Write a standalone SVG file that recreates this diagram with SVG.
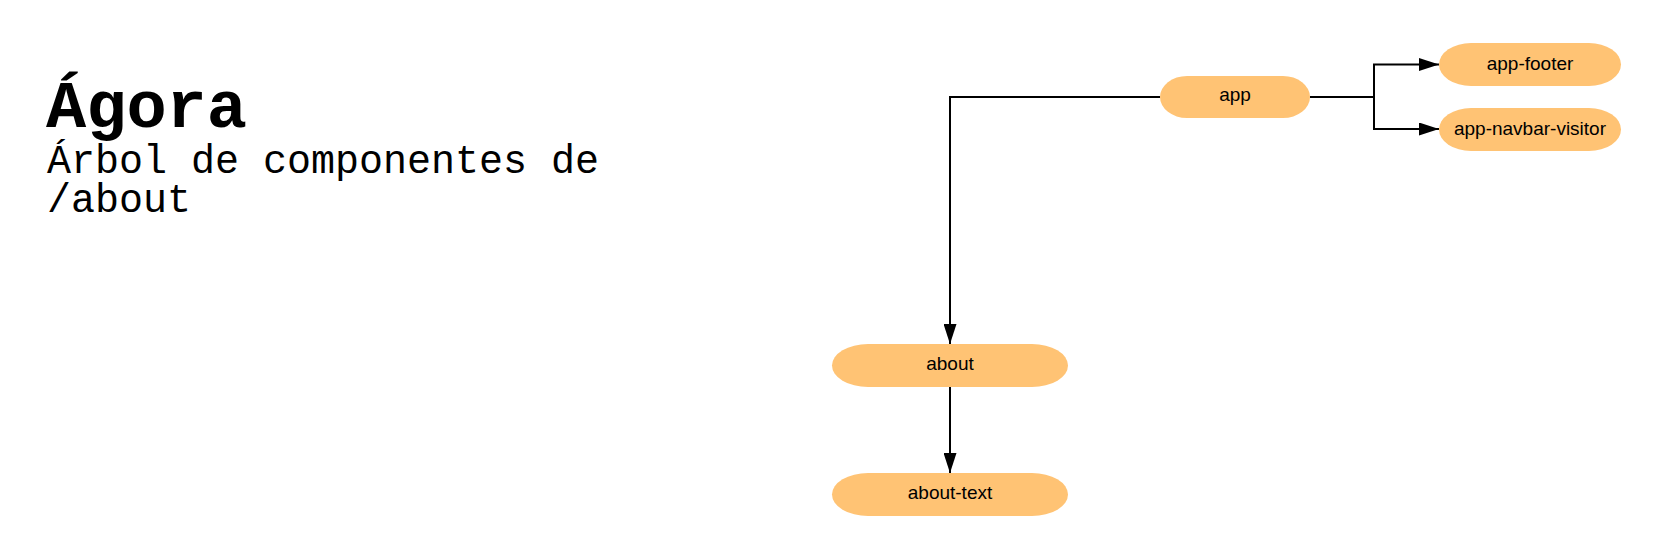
<svg xmlns="http://www.w3.org/2000/svg" width="1664" height="558" viewBox="0 0 1664 558">
<style>
.node rect{fill:#ffc374;stroke:none}
.node text{font-family:"Liberation Sans",Arial,sans-serif;font-size:19px;fill:#000;text-anchor:middle}
.edge{fill:none;stroke:#000;stroke-width:2}
.title{font-family:"Liberation Mono","DejaVu Sans Mono",monospace;font-weight:bold;font-size:67px;fill:#000}
.sub{font-family:"Liberation Mono","DejaVu Sans Mono",monospace;font-size:40px;fill:#000}
</style>
<defs>
<marker id="arr" viewBox="0 0 20 13" refX="20" refY="6.5" markerWidth="20" markerHeight="13" markerUnits="userSpaceOnUse" orient="auto">
<path d="M0,0 L20,6.5 L0,13 Z" fill="#000"/>
</marker>
</defs>
<rect width="1664" height="558" fill="#fff"/>
<g id="title">
<text class="title" x="46" y="127">Ágora</text>
<text class="sub" x="47" y="173">Árbol de componentes de</text>
<text class="sub" x="47" y="212">/about</text>
</g>
<g id="connectors">
<path class="edge" d="M1160,97 H950 V344" marker-end="url(#arr)"/>
<path class="edge" d="M1310,97 H1374 V64.5 H1439" marker-end="url(#arr)"/>
<path class="edge" d="M1374,97 V129 H1439" marker-end="url(#arr)"/>
<path class="edge" d="M950,387 V473" marker-end="url(#arr)"/>
</g>
<g id="app" class="node">
<rect x="1160" y="76" width="150" height="42" rx="27" ry="21"/>
<text x="1235" y="101">app</text>
</g>
<g id="app-footer" class="node">
<rect x="1439" y="43" width="182" height="43" rx="32" ry="21.5"/>
<text x="1530" y="70">app-footer</text>
</g>
<g id="app-navbar-visitor" class="node">
<rect x="1439" y="108" width="182" height="43" rx="32" ry="21.5"/>
<text x="1530" y="135">app-navbar-visitor</text>
</g>
<g id="about" class="node">
<rect x="832" y="344" width="236" height="43" rx="36" ry="21.5"/>
<text x="950" y="370">about</text>
</g>
<g id="about-text" class="node">
<rect x="832" y="473" width="236" height="43" rx="36" ry="21.5"/>
<text x="950" y="499">about-text</text>
</g>
</svg>
